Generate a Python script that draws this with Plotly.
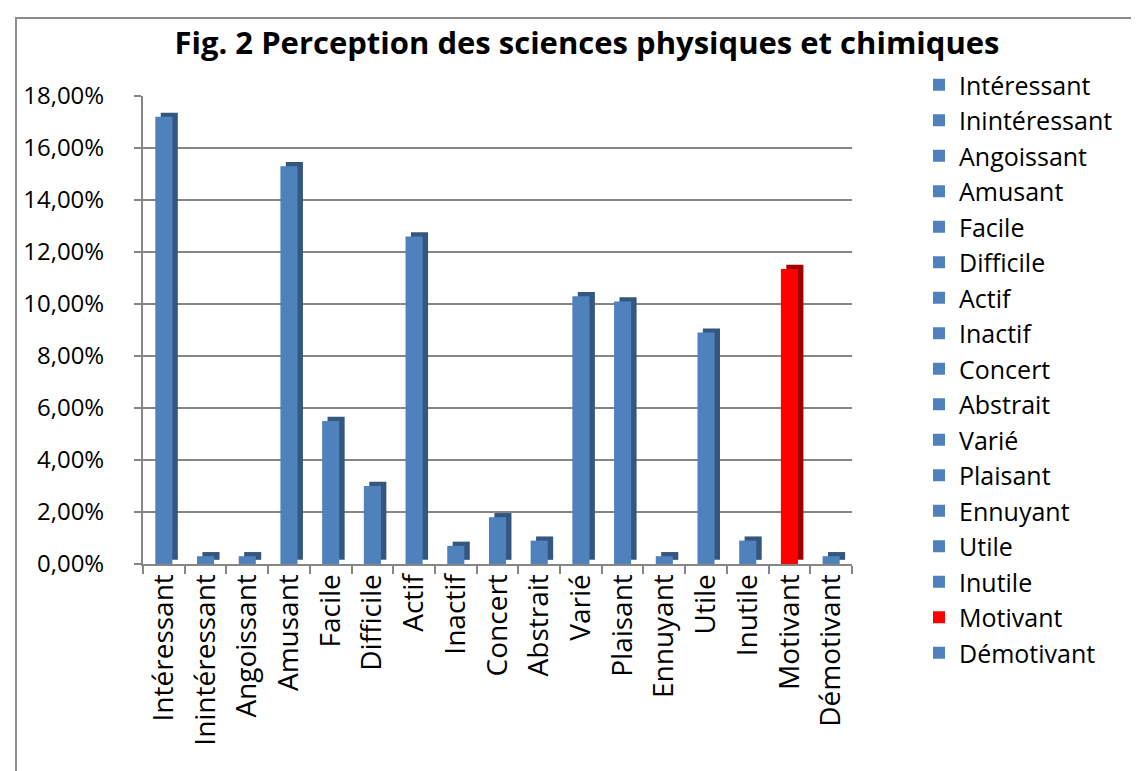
import plotly.graph_objects as go

categories = ["Intéressant", "Inintéressant", "Angoissant", "Amusant", "Facile", "Difficile",
              "Actif", "Inactif", "Concert", "Abstrait", "Varié", "Plaisant", "Ennuyant",
              "Utile", "Inutile", "Motivant", "Démotivant"]
values_pct = [17.2, 0.3, 0.3, 15.3, 5.5, 3.0, 12.6, 0.7, 1.8, 0.9, 10.3, 10.1, 0.3, 8.9, 0.9, 11.35, 0.3]
highlight = "Motivant"

values = [v / 100 for v in values_pct]

W, H = 1139, 771
L, R, T, B = 135, 295, 88, 215
PW, PH = W - L - R, H - T - B

def px_x(p):
    return (p - L) / PW

def px_y(p):
    return (H - B - p) / PH

FONT = "Open Sans"
BLUE, BLUE_DARK = "#4f81bd", "#34577f"
RED, RED_DARK = "#ff0000", "#a00000"

fig = go.Figure()

# side/top faces (pseudo-3D depth)
fig.add_trace(go.Bar(
    x=categories, y=values, base=0.0016,
    width=0.41, offset=-0.205 + 0.13,
    marker=dict(color=[RED_DARK if c == highlight else BLUE_DARK for c in categories], line_width=0),
    showlegend=False, hoverinfo="skip",
))

for c, v in zip(categories, values):
    fig.add_trace(go.Bar(
        x=[c], y=[v], name=c, width=0.41, legendgroup=c,
        marker=dict(color=RED if c == highlight else BLUE, line_width=0),
    ))

fig.update_layout(
    width=W, height=H,
    margin=dict(l=L, r=R, t=T, b=B),
    barmode="overlay",
    separators=", ",
    paper_bgcolor="white", plot_bgcolor="white",
    font=dict(family=FONT, size=24, color="black"),
    title=dict(text="<b>Fig. 2 Perception des sciences physiques et chimiques</b>",
               x=px_x(579), xref="paper", xanchor="center",
               y=1 - 35 / H, yanchor="middle",
               font=dict(family=FONT, size=31, color="black")),
    legend=dict(x=px_x(911), y=px_y(54), xanchor="left", yanchor="top",
                xref="paper", yref="paper", maxheight=1,
                font=dict(family=FONT, size=25), tracegroupgap=0,
                itemwidth=30, bgcolor="rgba(0,0,0,0)"),
    xaxis=dict(type="category", tickangle=-90, showgrid=False,
               showline=True, linecolor="#868686", linewidth=2,
               ticks="outside", ticklen=8, tickcolor="#868686", tickwidth=1.5,
               tickson="boundaries", ticklabelstandoff=-3,
               tickfont=dict(family=FONT, size=28),
               range=[-0.5, len(categories) - 0.5]),
    yaxis=dict(range=[0, 0.18], dtick=0.02, tickformat=".2%",
               showgrid=True, gridcolor="#868686", gridwidth=2,
               showline=True, linecolor="#868686", linewidth=2,
               ticks="outside", ticklen=7, tickcolor="#868686", tickwidth=1.5,
               tickfont=dict(family=FONT, size=24),
               ticklabelstandoff=25, zeroline=False),
    shapes=[dict(type="rect", xref="paper", yref="paper",
                 x0=px_x(8), x1=px_x(1160), y0=px_y(10), y1=px_y(800),
                 line=dict(color="#8c8c8c", width=2), layer="below")],
)

fig.write_html("out.html")
